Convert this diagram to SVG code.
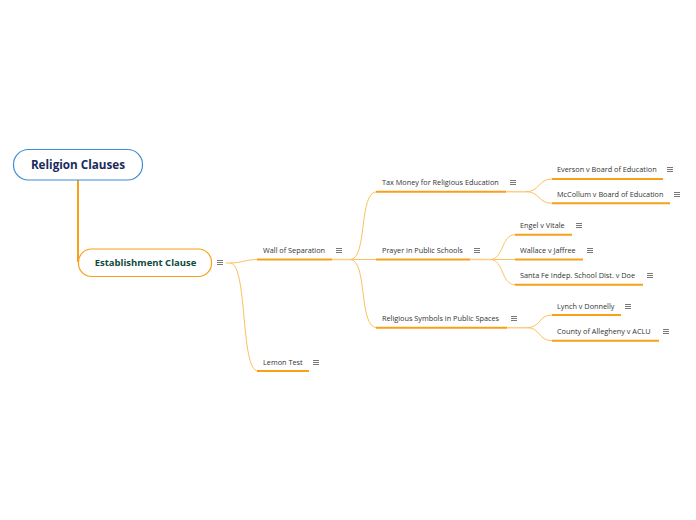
<svg xmlns="http://www.w3.org/2000/svg" width="696" height="520" viewBox="0 0 696 520">
<style>
.lbl{font-family:"Open Sans","Noto Sans",sans-serif;font-size:7.3px;fill:#333333;}
.ul{stroke:#f7a11a;stroke-width:2;fill:none;}
.ext{stroke:#fbd18a;stroke-width:1.6;fill:none;}
.cv{stroke:#fbc15e;stroke-width:1;fill:none;}
.ic{stroke:#555555;stroke-width:0.8;fill:none;}
</style>
<defs>
<path id="menu" d="M-3 -1.5H3M-3 0.5H3M-3 2.5H3"/>
</defs>
<rect width="696" height="520" fill="#ffffff"/>
<g id="connectors">
<path d="M78 180V262" stroke="#f7a11a" stroke-width="2" fill="none"/>
<path class="cv" d="M226 263H230"/>
<path class="cv" d="M230 263C242 263 245 259.5 258 259.5"/>
<path class="cv" d="M230 263C248 263 240 371 258 371"/>
<path class="cv" d="M350 259.5C368 259.5 358 191.7 377 191.7"/>
<path class="cv" d="M350 259.5H377"/>
<path class="cv" d="M350 259.5C368 259.5 358 327.7 377 327.7"/>
<path class="cv" d="M526 191.7C540 191.7 538 179 552 179"/>
<path class="cv" d="M526 191.7C540 191.7 538 203.3 552 203.3"/>
<path class="cv" d="M490 259.5C504 259.5 501 234.7 515 234.7"/>
<path class="cv" d="M490 259.5H515"/>
<path class="cv" d="M490 259.5C504 259.5 501 284.7 515 284.7"/>
<path class="cv" d="M527 327.7C541 327.7 538 315 552 315"/>
<path class="cv" d="M527 327.7C541 327.7 538 340.7 552 340.7"/>
</g>
<g id="root">
<rect x="13.5" y="149.5" width="129" height="30.5" rx="15" fill="#ffffff" stroke="#3a8ed4" stroke-width="1.2"/>
<text x="78" y="168.5" text-anchor="middle" font-family="'Open Sans','Noto Sans',sans-serif" font-size="11.7" font-weight="bold" fill="#1b2a5c">Religion Clauses</text>
</g>
<g id="establishment">
<rect x="78.5" y="249" width="133" height="27.5" rx="13" fill="#ffffff" stroke="#f7a11a" stroke-width="1.2"/>
<text x="145.5" y="266.3" text-anchor="middle" font-family="'Open Sans','Noto Sans',sans-serif" font-size="9.5" font-weight="bold" fill="#0e4a3a">Establishment Clause</text>
<use href="#menu" x="220" y="262" class="ic"/>
</g>
<g id="wall">
<text class="lbl" x="263" y="252.5">Wall of Separation</text>
<path class="ul" d="M257 259.5H332"/>
<path class="ext" d="M332 259.5H350"/>
<use href="#menu" x="339" y="250" class="ic"/>
</g>
<g id="lemon">
<text class="lbl" x="263" y="364.5">Lemon Test</text>
<path class="ul" d="M257 371H309"/>
<use href="#menu" x="316" y="362" class="ic"/>
</g>
<g id="tax">
<text class="lbl" x="382" y="184.5">Tax Money for Religious Education</text>
<path class="ul" d="M376 191.7H506"/>
<path class="ext" d="M506 191.7H526"/>
<use href="#menu" x="513" y="182" class="ic"/>
</g>
<g id="prayer">
<text class="lbl" x="382" y="252.5">Prayer in Public Schools</text>
<path class="ul" d="M376 259.5H470"/>
<path class="ext" d="M470 259.5H490"/>
<use href="#menu" x="477" y="250" class="ic"/>
</g>
<g id="symbols">
<text class="lbl" x="382" y="320.5">Religious Symbols in Public Spaces</text>
<path class="ul" d="M376 327.7H507"/>
<path class="ext" d="M507 327.7H527"/>
<use href="#menu" x="514" y="318" class="ic"/>
</g>
<g id="everson">
<text class="lbl" x="557" y="171.8">Everson v Board of Education</text>
<path class="ul" d="M552 179H663"/>
<use href="#menu" x="670" y="169" class="ic"/>
</g>
<g id="mccollum">
<text class="lbl" x="557" y="196.5">McCollum v Board of Education</text>
<path class="ul" d="M552 203.3H670"/>
<use href="#menu" x="677" y="194" class="ic"/>
</g>
<g id="engel">
<text class="lbl" x="520" y="227.5">Engel v Vitale</text>
<path class="ul" d="M515 234.7H572"/>
<use href="#menu" x="579" y="225" class="ic"/>
</g>
<g id="wallace">
<text class="lbl" x="520" y="252.5">Wallace v Jaffree</text>
<path class="ul" d="M515 259.5H583"/>
<use href="#menu" x="590" y="250" class="ic"/>
</g>
<g id="santafe">
<text class="lbl" x="520" y="277.5">Santa Fe Indep. School Dist. v Doe</text>
<path class="ul" d="M515 284.7H643"/>
<use href="#menu" x="650" y="275" class="ic"/>
</g>
<g id="lynch">
<text class="lbl" x="557" y="308.5">Lynch v Donnelly</text>
<path class="ul" d="M552 315H621"/>
<use href="#menu" x="628" y="306" class="ic"/>
</g>
<g id="county">
<text class="lbl" x="557" y="333.5">County of Allegheny v ACLU</text>
<path class="ul" d="M552 340.7H659"/>
<use href="#menu" x="666" y="331" class="ic"/>
</g>
</svg>
